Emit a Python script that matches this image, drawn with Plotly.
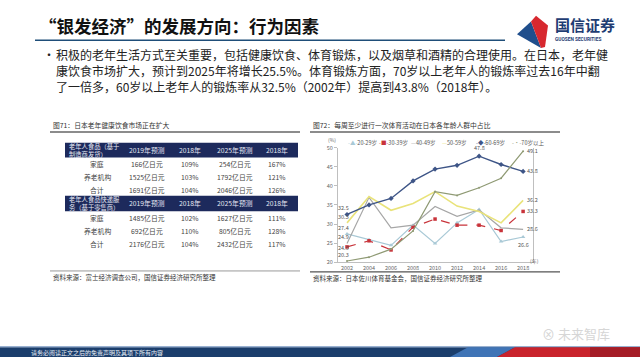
import plotly.graph_objects as go

W, H = 640, 361
def px(x): return x / W
def py(y): return 1 - y / H

CJK = "Noto Sans CJK SC"

# ---------------- data ----------------
years = [2002, 2004, 2006, 2008, 2010, 2012, 2014, 2016, 2018]
age_20_29 = [27.4, 25.9, 24.4, 29.7, 24.9, 30.3, 33.8, 25.4, 26.6]
age_30_39 = [24.0, 25.6, 23.2, 29.2, 31.3, 29.7, 29.7, 28.3, 33.3]
age_40_49 = [24.9, 37.0, 29.0, 29.7, 34.6, 32.0, 33.7, 29.0, 28.6]
age_50_59 = [30.3, 37.2, 33.6, 35.4, 38.5, 34.7, 33.3, 30.3, 36.2]
age_60_69 = [32.5, 35.0, 36.7, 41.3, 44.4, 45.4, 47.8, 45.6, 43.8]
age_70_up = [20.3, 21.3, 23.4, 28.2, 38.5, 37.5, 39.5, 42.0, 49.1]
series_names = ["20-29岁", "30-39岁", "40-49岁", "50-59岁", "60-69岁", "70岁以上"]
y_ticks = [20, 25, 30, 35, 40, 45, 50]

table_cols = ["2019年预测", "2018年", "2025年预测", "2018年"]
t1_title = "老年人食品（基于<br>制造商发货）"
t1_rows = ["家庭", "养老机构", "合计"]
t1_2019 = ["166亿日元", "1525亿日元", "1691亿日元"]
t1_2018a = ["109%", "103%", "104%"]
t1_2025 = ["254亿日元", "1792亿日元", "2046亿日元"]
t1_2018b = ["167%", "121%", "126%"]
t2_title = "老年人食品快递服<br>务（基于零售商）"
t2_rows = ["家庭", "养老机构", "合计"]
t2_2019 = ["1485亿日元", "692亿日元", "2176亿日元"]
t2_2018a = ["102%", "110%", "104%"]
t2_2025 = ["1627亿日元", "805亿日元", "2432亿日元"]
t2_2018b = ["111%", "128%", "117%"]

fig = go.Figure()
shapes = []

def txt(x, y, s, size, color="#222222", anchor="left", bold=False, family=CJK, align="left"):
    if bold:
        s = f"<b>{s}</b>"
    fig.add_annotation(xref="paper", yref="paper", x=px(x), y=py(y), text=s,
                       xanchor=anchor, yanchor="middle", showarrow=False, align=align,
                       font=dict(family=family, size=size, color=color))

# ---------------- tables (header bars + cell texts) ----------------
navy = "#1d2a5c"
col_centers = [97, 147, 190, 235, 277]
def add_table(title, rows, cols_vals, y_top, y_bot, row_ys):
    shapes.append(dict(type="rect", xref="paper", yref="paper", x0=px(65), x1=px(298),
                       y0=py(y_bot), y1=py(y_top), fillcolor=navy, line=dict(width=0)))
    yc = (y_top + y_bot) / 2
    fig.add_annotation(xref="paper", yref="paper", x=px(67), y=py(yc), text=title,
                       xanchor="left", yanchor="middle", showarrow=False, align="left",
                       font=dict(family=CJK, size=6.3, color="#e6e8f2"))
    for cx, h in zip(col_centers[1:], table_cols):
        txt(cx, yc, h, 6.8, "#e6e8f2", anchor="center")
    for i, ry in enumerate(row_ys):
        txt(col_centers[0], ry, rows[i], 6.8, "#444444", anchor="center")
        for cx, vals in zip(col_centers[1:], cols_vals):
            txt(cx, ry, vals[i], 6.8, "#444444", anchor="center")

add_table(t1_title, t1_rows, [t1_2019, t1_2018a, t1_2025, t1_2018b], 142, 157, [164, 177, 190])
add_table(t2_title, t2_rows, [t2_2019, t2_2018a, t2_2025, t2_2018b], 196, 212, [219, 232, 245])

# ---------------- line chart ----------------
styles = [
    dict(color="#a9c9d6", dash="solid", symbol="triangle-up", msize=4, width=1.2),
    dict(color="#c8333a", dash="dash", symbol="square", msize=3.5, width=1.2),
    dict(color="#a6a6a6", dash="solid", symbol="circle", msize=0.1, width=1.2),
    dict(color="#e9e37a", dash="solid", symbol="circle", msize=0.1, width=1.6),
    dict(color="#3e5587", dash="solid", symbol="diamond", msize=4, width=1.4),
    dict(color="#8f9a74", dash="solid", symbol="circle", msize=2, width=1.2),
]
all_series = [age_20_29, age_30_39, age_40_49, age_50_59, age_60_69, age_70_up]
for name, vals, st in zip(series_names, all_series, styles):
    fig.add_trace(go.Scatter(
        x=years, y=vals, name=name, mode="lines+markers", cliponaxis=False,
        line=dict(color=st["color"], dash=st["dash"], width=st["width"]),
        marker=dict(symbol=st["symbol"], size=st["msize"], color=st["color"]),
        showlegend=False))

fig.update_layout(
    xaxis=dict(domain=[px(338), px(533)], range=[2001.18, 2018.9],
               tickvals=years, ticktext=[str(y) for y in years],
               showline=True, linecolor="#bfbfbf", linewidth=1,
               showgrid=False, zeroline=False, ticks="",
               tickfont=dict(family=CJK, size=5.5, color="#666666")),
    yaxis=dict(domain=[py(264), py(147)], range=[20, 50], tickvals=y_ticks,
               showline=True, linecolor="#bfbfbf", linewidth=1, mirror=True,
               showgrid=False, zeroline=False, ticks="outside", ticklen=3,
               tickcolor="#bfbfbf",
               tickfont=dict(family=CJK, size=5.5, color="#666666")),
)

# data labels
lab_font = dict(family=CJK, size=5.5, color="#555555")
left_labels = [age_60_69, age_50_59, age_20_29, age_40_49, age_70_up]
for vals in left_labels:
    fig.add_annotation(x=years[0], y=vals[0], text=f"{vals[0]:.1f}",
                       showarrow=False, xanchor="center", yanchor="bottom",
                       xshift=-4, yshift=0, font=lab_font)
fig.add_annotation(x=years[0], y=age_30_39[0], text=f"{age_30_39[0]:.1f}",
                   showarrow=False, xanchor="center", yanchor="middle",
                   xshift=-4, yshift=-1, font=lab_font)
fig.add_annotation(x=years[6], y=age_60_69[6], text=f"{age_60_69[6]:.1f}",
                   showarrow=False, yanchor="bottom", yshift=2, font=lab_font)
for vals in [age_70_up, age_60_69, age_50_59, age_30_39, age_40_49]:
    fig.add_annotation(x=years[-1], y=vals[-1], text=f"{vals[-1]:.1f}",
                       showarrow=False, xanchor="left", xshift=2, font=lab_font)
fig.add_annotation(x=years[-1], y=age_20_29[-1], text=f"{age_20_29[-1]:.1f}",
                   showarrow=False, yanchor="top", yshift=-2, font=lab_font)

# legend (text)
leg_x = [346, 377, 409, 440, 474, 510]
leg_sym = ["-▲-", "-■-", "—", "—", "-◆-", "-•-"]
for xx, nm, sym, st in zip(leg_x, series_names, leg_sym, styles):
    fig.add_annotation(xref="paper", yref="paper", x=px(xx), y=py(142),
                       xanchor="left", yanchor="middle", showarrow=False,
                       text=f"<span style='color:{st['color']}'>{sym}</span>{nm}",
                       font=dict(family=CJK, size=5.5, color="#555555"))
fig.add_annotation(xref="paper", yref="paper", x=px(332), y=py(139), text="(%)",
                   showarrow=False, font=dict(family=CJK, size=5, color="#666666"))
fig.add_annotation(xref="paper", yref="paper", x=px(541), y=py(269), text="(年)",
                   showarrow=False, font=dict(family=CJK, size=5, color="#666666"))

# ---------------- slide decorations ----------------
shapes.append(dict(type="line", xref="paper", yref="paper", x0=px(35), x1=px(505),
                   y0=py(37), y1=py(37), line=dict(color="#1f4e79", width=1.6)))
shapes.append(dict(type="path", xref="paper", yref="paper",
                   path=f"M {px(517)},{py(31)} L {px(531)},{py(18)} L {px(541)},{py(45)} Z",
                   fillcolor="#1f4e8c", line=dict(width=0)))
shapes.append(dict(type="path", xref="paper", yref="paper",
                   path=f"M {px(531)},{py(18)} L {px(536)},{py(12)} L {px(548)},{py(22)} L {px(545)},{py(44)} L {px(541)},{py(45)} Z",
                   fillcolor="#d7282f", line=dict(width=0)))
shapes.append(dict(type="line", xref="paper", yref="paper", x0=px(50), x1=px(300),
                   y0=py(131), y1=py(131), line=dict(color="#666666", width=1.5)))
shapes.append(dict(type="line", xref="paper", yref="paper", x0=px(310), x1=px(560),
                   y0=py(131), y1=py(131), line=dict(color="#666666", width=1.5)))
shapes.append(dict(type="line", xref="paper", yref="paper", x0=px(50), x1=px(300),
                   y0=py(273), y1=py(273), line=dict(color="#999999", width=1)))
shapes.append(dict(type="line", xref="paper", yref="paper", x0=px(310), x1=px(560),
                   y0=py(274), y1=py(274), line=dict(color="#555555", width=1.3)))
# footer
shapes.append(dict(type="rect", xref="paper", yref="paper", x0=0, x1=1,
                   y0=0, y1=py(351), fillcolor="#1b3e6c", line=dict(width=0)))
shapes.append(dict(type="line", xref="paper", yref="paper", x0=0, x1=1,
                   y0=py(350.5), y1=py(350.5), line=dict(color="#7d9cc4", width=1)))
shapes.append(dict(type="path", xref="paper", yref="paper",
                   path=f"M {px(450)},0 L {px(468)},{py(351)} L {px(515)},{py(351)} L {px(497)},0 Z",
                   fillcolor="#3f74b6", line=dict(width=0)))
shapes.append(dict(type="path", xref="paper", yref="paper",
                   path=f"M {px(497)},0 L {px(515)},{py(351)} L 1,{py(351)} L 1,0 Z",
                   fillcolor="#c9232c", line=dict(width=0)))
shapes.append(dict(type="rect", xref="paper", yref="paper", x0=px(590), x1=1,
                   y0=0, y1=py(351), fillcolor="#a51d26", line=dict(width=0)))
fig.update_layout(shapes=shapes)

txt(37, 22, "“银发经济”的发展方向：行为因素", 17.5, "#111111", bold=True)
txt(553, 21, "国信证券", 15, "#1f3d73", bold=True)
txt(553, 36, "GUOSEN SECURITIES", 4.8, "#1f3d73", bold=True, family="Roboto")

txt(41, 52, "•", 12, "#222222")
txt(54, 52, "积极的老年生活方式至关重要，包括健康饮食、体育锻炼，以及烟草和酒精的合理使用。在日本，老年健", 12, "#222222")
txt(54, 68, "康饮食市场扩大，预计到2025年将增长25.5%。体育锻炼方面，70岁以上老年人的锻炼率过去16年中翻", 12, "#222222")
txt(54, 84, "了一倍多，60岁以上老年人的锻炼率从32.5%（2002年）提高到43.8%（2018年）。", 12, "#222222")

txt(51, 124, "图71：日本老年健康饮食市场正在扩大", 6.8, "#333333")
txt(311, 124, "图72：每周至少进行一次体育活动在日本各年龄人群中占比", 6.8, "#333333")
txt(51, 279, "资料来源：富士经济调查公司，国信证券经济研究所整理", 6.5, "#333333")
txt(311, 280, "资料来源：日本佐川体育基金会，国信证券经济研究所整理", 6.5, "#333333")

txt(29, 356, "请务必阅读正文之后的免责声明及其项下所有内容", 6, "#e8eef6")
txt(540, 337, "⊗ 未来智库", 13, "#d6d6d6")

fig.update_layout(width=W, height=H, margin=dict(l=0, r=0, t=0, b=0),
                  paper_bgcolor="white", plot_bgcolor="white", showlegend=False)

fig.write_html("out.html", config={"displayModeBar": False},
               post_script="document.body.style.margin='0';document.body.style.overflow='hidden';")
